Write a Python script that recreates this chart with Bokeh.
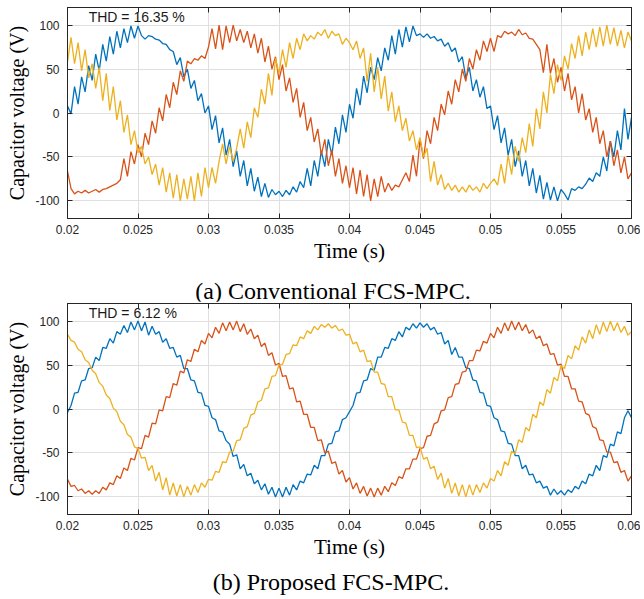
import numpy as np
from bokeh.plotting import figure
from bokeh.models import Range1d, FixedTicker, LinearAxis, Label, Div
from bokeh.layouts import column
from bokeh.embed import file_html
from bokeh.resources import INLINE

# ---------------- data ----------------
t_start = 0.02
t_step = 0.00025          # sampling step of the listed values (s)

x_ticks = [0.02, 0.025, 0.03, 0.035, 0.04, 0.045, 0.05, 0.055, 0.06]
x_tick_labels = ["0.02", "0.025", "0.03", "0.035", "0.04", "0.045", "0.05", "0.055", "0.06"]
y_ticks = [-100, -50, 0, 50, 100]
y_tick_labels = ["-100", "-50", "0", "50", "100"]

captions = ["(a) Conventional FCS-MPC.", "(b) Proposed FCS-MPC."]
thd_texts = ["THD = 16.35 %", "THD = 6.12 %"]

# (a) Conventional FCS-MPC
blue_a = [8, -1, 30, 10, 41, 24, 54, 37, 67, 48, 78, 59, 87, 67, 93, 74, 96, 80, 99, 85, 99,
          88, 84, 88, 87, 84, 83, 79, 78, 72, 70, 55, 63, 41, 50, 28, 37, 14, 22, 0, 8,
          -19, -3, -34, -17, -48, -30, -61, -43, -72, -54, -83, -63, -89, -73, -95, -80, -96, -87, -93, -89,
          -95, -88, -93, -84, -90, -78, -85, -63, -83, -54, -72, -43, -61, -30, -48, -16, -35, -2, -22, 10,
          -6, 28, 9, 42, 23, 52, 38, 63, 48, 74, 60, 88, 67, 95, 75, 98, 81, 99, 88, 90,
          86, 90, 85, 87, 82, 84, 76, 80, 70, 74, 58, 64, 40, 52, 25, 38, 18, 30, 5, 8,
          -19, -3, -34, -17, -48, -30, -61, -43, -72, -54, -83, -63, -91, -71, -98, -79, -99, -84, -100, -87,
          -92, -99, -86, -88, -84, -86, -81, -74, -78, -68, -72, -50, -66, -32, -50, -20, -42, 5, -30, -5]
red_a = [-66, -86, -92, -89, -91, -88, -91, -89, -87, -90, -87, -86, -84, -82, -80, -76, -52, -72, -44, -58, -36,
         -50, -23, -36, -9, -23, 6, -9, 21, 6, 35, 21, 48, 36, 59, 56, 62, 60, 65, 62, 75,
         96, 73, 100, 72, 99, 80, 100, 82, 95, 80, 93, 74, 90, 68, 85, 58, 76, 50, 64, 38,
         55, 25, 40, 12, 28, -5, 12, -20, -5, -33, -18, -48, -30, -60, -42, -72, -52, -80, -60, -85,
         -62, -92, -65, -95, -70, -100, -75, -95, -72, -90, -80, -88, -82, -84, -76, -68, -78, -48, -72, -30,
         -52, -20, -35, -5, -20, 10, -2, 25, 10, 38, 24, 50, 36, 62, 50, 72, 60, 82, 70, 85,
         70, 88, 86, 93, 90, 92, 88, 95, 89, 91, 85, 84, 78, 72, 46, 78, 45, 62, 35, 52,
         25, 45, 15, 30, 0, 22, -8, 5, -22, -5, -35, -20, -50, -32, -60, -42, -68, -50, -75, -68]
yellow_a = [58, 86, 56, 80, 48, 72, 40, 56, 28, 52, 14, 45, 3, 30, -8, 14, -22, -2, -36, -20, -45,
            -38, -58, -50, -70, -58, -82, -62, -90, -68, -97, -70, -100, -75, -98, -72, -100, -68, -95, -62, -85,
            -62, -80, -55, -35, -58, -38, -55, -40, -18, -40, -10, -28, 6, -5, 27, 10, 45, 20, 62, 45,
            72, 52, 80, 62, 85, 72, 90, 82, 88, 84, 92, 88, 95, 85, 93, 88, 90, 78, 85, 80,
            72, 82, 62, 74, 36, 68, 24, 52, 16, 42, 2, 24, -10, 8, -20, -6, -32, -20, -42, -28,
            -50, -40, -78, -55, -82, -70, -87, -80, -88, -82, -90, -84, -90, -82, -88, -84, -90, -80, -86, -80,
            -75, -82, -58, -80, -48, -70, -38, -55, -28, -45, -12, -38, 5, -18, 24, 0, 44, 22, 55, 37,
            65, 50, 79, 62, 88, 65, 92, 72, 96, 75, 98, 76, 100, 78, 97, 76, 94, 74, 92, 82]

# (b) Proposed FCS-MPC
blue_b = [-4, 4, 18, 19, 32, 33, 46, 47, 59, 55, 70, 69, 80, 75, 88, 85, 95, 87, 99, 90, 100,
          89, 99, 84, 94, 85, 88, 76, 80, 69, 70, 59, 61, 46, 46, 33, 32, 19, 18, 4, 3,
          -10, -12, -25, -26, -36, -40, -54, -52, -68, -63, -76, -73, -85, -81, -92, -85, -97, -89, -100, -90,
          -100, -89, -98, -86, -92, -82, -84, -74, -75, -64, -68, -53, -53, -40, -39, -26, -25, -12, -10, -3,
          4, 18, 19, 32, 33, 46, 44, 59, 59, 70, 69, 80, 78, 88, 82, 93, 90, 97, 92, 98,
          93, 97, 90, 93, 85, 87, 74, 78, 62, 70, 59, 59, 47, 46, 33, 32, 19, 18, 4, 3,
          -10, -12, -25, -26, -39, -40, -53, -53, -68, -64, -75, -74, -84, -82, -90, -88, -98, -91, -97, -93,
          -98, -92, -95, -88, -91, -82, -85, -74, -76, -64, -70, -53, -55, -40, -42, -26, -28, -10, -2, -10]
red_b = [-80, -88, -87, -93, -91, -96, -93, -97, -93, -96, -89, -92, -84, -86, -76, -79, -67, -70, -56, -58, -44,
         -45, -30, -32, -16, -17, -1, -2, 14, 13, 29, 27, 43, 41, 56, 54, 68, 65, 78, 74, 86,
         81, 93, 86, 98, 89, 99, 90, 100, 88, 97, 85, 91, 80, 84, 71, 75, 61, 64, 50, 52,
         37, 38, 23, 24, 8, 9, -6, -6, -21, -21, -36, -35, -50, -48, -62, -60, -74, -70, -83, -78,
         -91, -84, -96, -88, -99, -90, -100, -90, -98, -88, -94, -84, -87, -77, -79, -68, -68, -57, -57, -45,
         -44, -31, -30, -17, -15, -2, -1, 13, 14, 28, 29, 42, 43, 55, 55, 67, 66, 77, 75, 86,
         81, 93, 86, 98, 89, 100, 90, 99, 89, 96, 86, 90, 80, 83, 72, 74, 62, 63, 50, 51,
         37, 37, 23, 23, 9, 8, -5, -7, -20, -22, -35, -36, -49, -49, -61, -60, -72, -70, -82, -76]
yellow_b = [85, 78, 76, 68, 65, 56, 53, 44, 40, 30, 26, 16, 12, 1, -3, -14, -18, -29, -32, -43, -45,
            -56, -55, -70, -64, -82, -72, -92, -78, -98, -84, -99, -86, -100, -88, -98, -86, -95, -84, -89, -80,
            -81, -71, -72, -60, -61, -49, -48, -36, -35, -22, -20, -7, -5, 8, 10, 23, 24, 37, 38, 50,
            51, 62, 63, 73, 72, 82, 80, 89, 86, 94, 90, 96, 93, 97, 92, 95, 89, 91, 84, 85,
            74, 76, 65, 67, 54, 55, 42, 42, 29, 28, 14, 14, -1, -1, -15, -16, -30, -30, -44, -43,
            -57, -55, -68, -65, -80, -73, -90, -79, -96, -84, -99, -86, -100, -86, -98, -86, -95, -84, -90, -79,
            -82, -70, -76, -60, -64, -48, -51, -35, -38, -21, -25, -6, -10, 8, 4, 22, 18, 36, 32, 49,
            46, 61, 57, 72, 67, 82, 75, 90, 80, 96, 85, 99, 88, 100, 89, 98, 87, 94, 84, 88]

# ---------------- styling ----------------
C_BLUE, C_RED, C_YELLOW = "#0072BD", "#D95319", "#EDB120"
AX_COLOR = "#262626"
GRID_COLOR = "#dfdfdf"
SANS = "Liberation Sans"
SERIF = "Liberation Serif"
FIG_W = 640


def make_panel(series, thd, height, top, bottom):
    n = len(series[0])
    t = t_start + t_step * np.arange(n)
    p = figure(width=FIG_W, height=height, output_backend="svg", toolbar_location=None,
               x_range=Range1d(0.02, 0.06), y_range=Range1d(-120, 120),
               title=None,
               min_border_left=67, min_border_right=9, min_border_top=top,
               min_border_bottom=bottom)
    p.background_fill_color = "white"
    p.border_fill_color = "white"
    p.outline_line_color = AX_COLOR
    p.outline_line_width = 1

    for ax in (p.xaxis[0], p.yaxis[0]):
        ax.major_tick_in = 5
        ax.major_tick_out = 0
        ax.minor_tick_in = 0
        ax.minor_tick_out = 0
        ax.axis_line_color = AX_COLOR
        ax.major_tick_line_color = AX_COLOR
        ax.major_label_text_font = SANS
        ax.major_label_text_font_size = "12px"
        ax.major_label_text_color = AX_COLOR
        ax.axis_label_text_font = SERIF
        ax.axis_label_text_font_style = "normal"
        ax.axis_label_text_color = "black"

    p.xaxis[0].ticker = FixedTicker(ticks=x_ticks)
    p.xaxis[0].major_label_overrides = dict(zip(x_ticks, x_tick_labels))
    p.xaxis[0].axis_label = "Time (s)"
    p.xaxis[0].axis_label_text_font_size = "21px"
    p.xaxis[0].major_label_standoff = 6
    p.xaxis[0].axis_label_standoff = 2

    p.yaxis[0].ticker = FixedTicker(ticks=y_ticks)
    p.yaxis[0].major_label_overrides = dict(zip(y_ticks, y_tick_labels))
    p.yaxis[0].axis_label = "Capacitor voltage (V)"
    p.yaxis[0].axis_label_text_font_size = "20px"
    p.yaxis[0].major_label_standoff = 8
    p.yaxis[0].axis_label_standoff = 4

    for side, ticks in (("above", x_ticks), ("right", y_ticks)):
        ax = LinearAxis()
        ax.ticker = FixedTicker(ticks=ticks)
        ax.major_tick_in = 5
        ax.major_tick_out = 0
        ax.minor_tick_in = 0
        ax.minor_tick_out = 0
        ax.major_label_text_font_size = "0px"
        ax.major_label_text_alpha = 0
        ax.major_label_standoff = 0
        ax.axis_line_color = AX_COLOR
        ax.major_tick_line_color = AX_COLOR
        p.add_layout(ax, side)

    p.xgrid.ticker = FixedTicker(ticks=x_ticks)
    p.ygrid.ticker = FixedTicker(ticks=y_ticks)
    p.xgrid.grid_line_color = GRID_COLOR
    p.ygrid.grid_line_color = GRID_COLOR
    p.xgrid.grid_line_width = 1
    p.ygrid.grid_line_width = 1

    for ys, col in zip(series, (C_BLUE, C_RED, C_YELLOW)):
        p.line(t, ys, line_color=col, line_width=1.3)

    p.add_layout(Label(x=0.0215, y=109, text=thd, text_font=SANS, text_font_size="14px",
                       text_color="#1a1a1a", text_baseline="middle"))
    return p


def caption_div(text, height, pad_top, pad_left):
    html = ('<div style="width:%dpx;box-sizing:border-box;padding-left:%dpx;padding-top:%dpx;'
            'text-align:center;font-family:\'Liberation Serif\';font-size:24px;line-height:24px;'
            'color:black;white-space:nowrap;">%s</div>' % (FIG_W, pad_left, pad_top, text))
    return Div(text=html, width=FIG_W, height=height, margin=0)


pa = make_panel([blue_a, red_a, yellow_a], thd_texts[0], height=268, top=7, bottom=50)
ca = caption_div(captions[0], height=33, pad_top=11, pad_left=26)
pb = make_panel([blue_b, red_b, yellow_b], thd_texts[1], height=263, top=2, bottom=50)
cb = caption_div(captions[1], height=34, pad_top=6, pad_left=22)

layout = column(pa, ca, pb, cb, spacing=0)
open("out.html", "w").write(file_html(layout, INLINE))
